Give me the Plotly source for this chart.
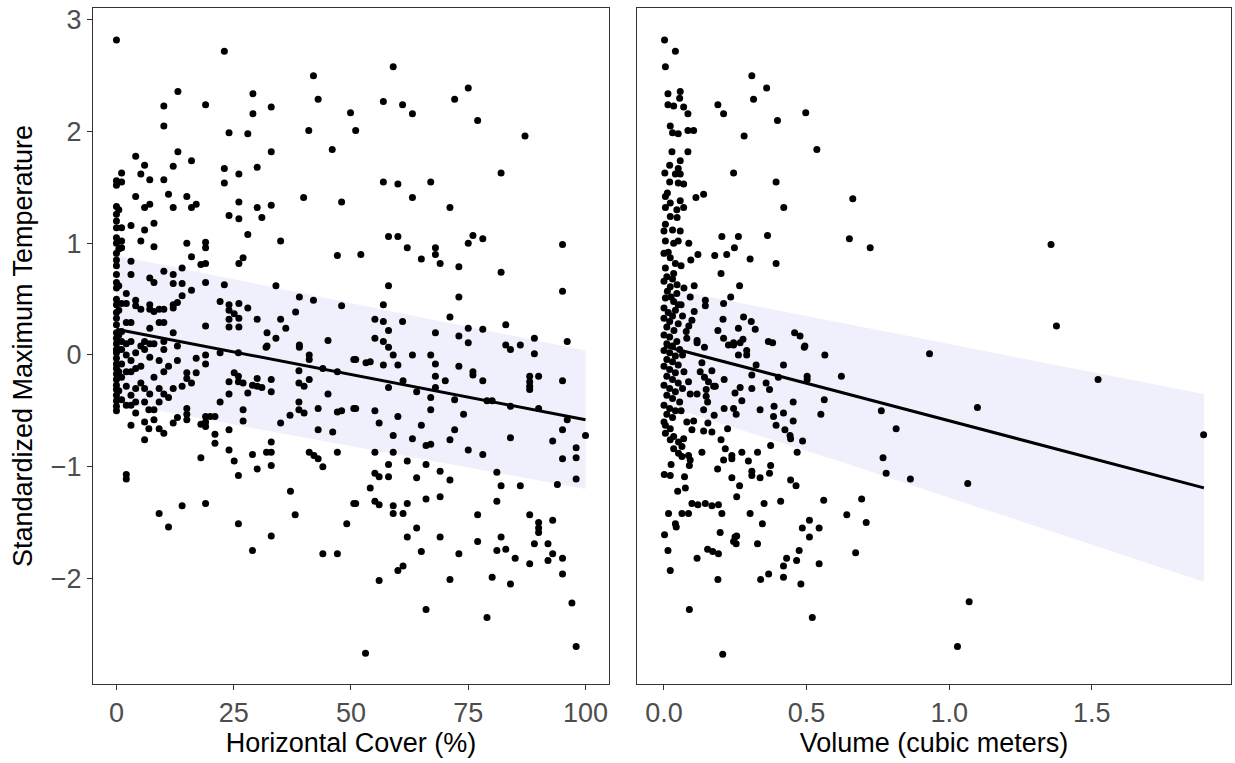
import plotly.graph_objects as go

# ---------------- data ----------------
cover_pts = [
    (0,2.82),(23,2.72),(42,2.50),(13.1,2.36),(29.1,2.34),(43,2.29),(10.1,2.23),(19,2.24),(33,2.22),(29.1,2.16),
    (49.9,2.17),(10.1,2.05),(24,1.99),(28,1.98),(41,2.01),(46,1.84),(13.1,1.82),(33,1.82),(4.1,1.78),(6,1.70),
    (12.1,1.69),(16,1.74),(1.1,1.63),(23,1.67),(26.1,1.62),(30,1.68),(0,1.56),(1.1,1.55),(5.2,1.62),(7.1,1.57),
    (10.1,1.57),(23,1.54),(4.1,1.42),(11.1,1.44),(15,1.42),(6,1.32),(7.1,1.35),(12.1,1.32),(16,1.32),(17,1.35),
    (26.1,1.37),(30,1.32),(33,1.34),(39.9,1.41),(48,1.37),(0,1.33),(0,1.26),(0,1.20),(0,1.14),(1.1,1.14),
    (3.1,1.16),(6,1.12),(8,1.18),(24,1.25),(26.1,1.22),(31,1.23),(0,1.05),(1.1,1.02),(5.2,1.02),(8,0.97),
    (15,1.00),(19,1.01),(19,0.96),(28,1.08),(35,1.02),(0,0.91),(1.1,0.96),(16,0.88),(18,0.81),(19,0.82),
    (26.1,0.82),(27,0.87),(47.1,0.89),(0,0.80),(3.1,0.84),(3.1,0.72),(10.1,0.75),(12.1,0.72),(14,0.78),(7.1,0.69),
    (8,0.65),(12.1,0.64),(14,0.64),(16,0.58),(19,0.65),(23,0.63),(34,0.62),(0,0.65),(2.1,0.55),(0,0.45),
    (1.1,0.46),(2.1,0.46),(4.1,0.49),(4.1,0.44),(5.2,0.41),(7.1,0.45),(7.1,0.41),(8,0.39),(9.1,0.41),(10.1,0.41),
    (12.1,0.45),(12.1,0.42),(13,0.47),(14,0.53),(22.1,0.48),(24,0.45),(24,0.40),(26.1,0.46),(28,0.42),(39,0.52),
    (42,0.49),(48,0.44),(38.2,0.385),(25.1,0.37),(24,0.32),(26.1,0.33),(30,0.32),(35,0.32),(36.1,0.24),(19,0.26),
    (24,0.25),(26.1,0.25),(0,0.27),(2.1,0.29),(3.1,0.29),(9.1,0.29),(10.1,0.29),(7.1,0.24),(1.1,0.21),(1.1,0.12),
    (3.1,0.12),(6,0.12),(10.1,0.12),(12.1,0.20),(32.1,0.20),(34,0.15),(45.1,0.13),(39,0.09),(32.1,0.08),
    (0,1.52),(0,1.0),(0,0.85),(0,0.72),(0,0.6),(0,0.5),(0,0.38),(0,0.33),(0,0.2),(0,0.15),(0,0.1),(0,0.05),
    (0.5,0.4),(0.5,0.18),(0.5,0.62),(0.5,0.95),(0.5,1.3),
    (59,2.58),(56.9,2.27),(61,2.24),(63.1,2.16),(72.1,2.29),(75,2.39),(77,2.10),(87.1,1.96),(51,2.01),(56.9,1.55),
    (60,1.53),(67,1.55),(63.1,1.41),(71.1,1.32),(82,1.63),(58,1.06),(60,1.06),(62,0.96),(68,0.96),(68,0.90),
    (65,0.86),(69,0.82),(73,0.79),(75,1.00),(76,1.07),(78.1,1.04),(82,0.74),(95.1,0.99),(95.1,0.57),(52.1,0.90),
    (58,0.62),(73,0.52),(56.9,0.45),(55.1,0.32),(56.9,0.30),(61,0.30),(71.1,0.34),(58,0.22),(68,0.20),(75,0.24),
    (78.1,0.23),(83,0.27),(55.1,0.15),(56.9,0.12),(73,0.17),(75,0.11),(83,0.09),(86.1,0.09),(89.1,0.15),(96.1,0.12),
    (31.9,0.07),(39,0.07),(26,0.02),(22.1,0.02),(41.1,0.0),(41.1,-0.04),(19,0.0),(19,-0.08),(17,-0.03),(13,-0.05),
    (38.9,-0.14),(41.1,-0.22),(38.9,-0.25),(40,-0.28),(44,-0.12),(47.1,-0.15),(10.1,-0.15),(15,-0.16),(17,-0.16),(15,-0.21),
    (16,-0.25),(14,-0.28),(25.1,-0.16),(26,-0.19),(24,-0.24),(26,-0.24),(27,-0.25),(30,-0.21),(29,-0.27),(30,-0.28),
    (31,-0.29),(33,-0.22),(33,-0.33),(28,-0.34),(24,-0.35),(22.1,-0.42),(38.9,-0.42),(38.9,-0.49),(40,-0.52),(45.1,-0.35),
    (43,-0.48),(47.1,-0.51),(48,-0.50),(50.6,-0.48),(50.6,-0.04),(27,-0.49),(27,-0.59),(37,-0.54),(35,-0.61),(43,-0.67),
    (46.1,-0.69),(47.1,-0.87),(41.1,-0.87),(42.1,-0.90),(43,-0.93),(44,-1.00),(33,-0.78),(32,-0.87),(33,-0.87),(29,-0.89),
    (33,-0.99),(30,-1.02),(24,-0.67),(21,-0.71),(21,-0.79),(24,-0.85),(25.1,-0.95),(26,-1.08),(18,-0.92),(19,-0.55),
    (20,-0.55),(21,-0.55),(19,-0.60),(18,-0.62),(19,-0.64),(15,-0.48),(15,-0.53),(15,-0.58),(13,-0.56),(12.1,-0.61),
    (9.1,-0.66),(10.1,-0.70),(8,-0.58),(6.9,-0.66),(6,-0.60),(6,-0.76),(3.1,-0.63),(4.1,-0.52),(3.1,-0.45),(6.9,-0.49),
    (8,-0.49),(9.1,-0.42),(2.1,-1.07),(2.1,-1.11),(37.1,-1.22),(38.1,-1.43),(49.1,-1.51),(50.6,-1.33),(9.1,-1.42),(11.1,-1.54),
    (14,-1.35),(19,-1.33),(26,-1.51),(33,-1.62),(29,-1.75),(44,-1.78),(47.1,-1.78),
    (0,0.02),(0,-0.03),(0,-0.08),(0,-0.12),(0,-0.17),(0,-0.22),(0,-0.27),(0,-0.31),(0,-0.36),(0,-0.41),(0,-0.46),(0,-0.50),
    (1.1,0.05),(2.1,0.0),(3.1,-0.05),(4.1,0.02),(5.2,-0.1),(6,0.05),(7.1,-0.02),(1.1,-0.2),(2.1,-0.28),(3.1,-0.15),
    (4.1,-0.3),(5.2,-0.25),(6,-0.3),(7.1,-0.35),(8,-0.2),(9.1,-0.05),(10.1,0.05),(8,0.1),(11.1,-0.1),(12.1,-0.3),
    (1.1,-0.4),(2.1,-0.45),(3.1,-0.36),(0.5,-0.32),(10.1,-0.35),(11.1,-0.38),(9.1,-0.3),(13,0.08),(6,-0.42),(1.1,-0.08),
    (2.1,-0.15),(4.1,-0.12),(5.2,0.08),(7.1,0.1),(2.1,0.1),(4.1,-0.42),(0.5,0.05),(0.5,-0.15),
    (58,0.07),(59,0.0),(63.1,0.0),(67,0.0),(68,-0.08),(73,-0.10),(76,-0.15),(76,-0.18),(78.1,-0.23),(84,0.05),
    (89.1,0.01),(51,-0.04),(53.2,-0.07),(54.1,-0.06),(56.9,-0.09),(60,-0.09),(61.1,-0.23),(58,-0.29),(64,-0.33),(68,-0.19),
    (70.1,-0.23),(68,-0.29),(67,-0.38),(72.1,-0.40),(74,-0.53),(67,-0.49),(51,-0.48),(55.1,-0.50),(56,-0.61),(60,-0.55),
    (65,-0.63),(59,-0.72),(63.1,-0.75),(66,-0.81),(67,-0.80),(71.1,-0.76),(72.1,-0.67),(75,-0.85),(78.1,-0.89),(79,-0.41),
    (80.1,-0.41),(84,-0.46),(84,-0.74),(88.1,-0.19),(88.1,-0.24),(88.1,-0.28),(88.1,-0.31),(90,-0.19),(90,-0.48),(95.1,-0.23),
    (96.1,-0.58),(95.1,-0.67),(93,-0.77),(98,-0.83),(98,-0.92),(100,-0.72),(95.1,-0.93),(98,-1.11),(94,-1.16),(55.1,-0.87),
    (59,-0.87),(58,-0.98),(62,-0.95),(66,-0.98),(69,-1.04),(71.1,-1.12),(64,-1.10),(55.1,-1.06),(56,-1.09),(58,-1.09),
    (54.1,-1.19),(51,-1.33),(55.1,-1.31),(56,-1.34),(59,-1.35),(59,-1.42),(61.1,-1.42),(62,-1.33),(66,-1.29),(69,-1.27),
    (81.1,-1.05),(82,-1.17),(86.1,-1.17),(81.1,-1.31),(77,-1.43),(88.1,-1.43),(90,-1.50),(90,-1.55),(90,-1.59),(93,-1.48),
    (64,-1.55),(62,-1.63),(69,-1.63),(77,-1.67),(82,-1.63),(81.1,-1.75),(83,-1.74),(85,-1.82),(88.1,-1.87),(89.1,-1.69),
    (92,-1.69),(93,-1.78),(92,-1.84),(95.1,-1.82),(95.1,-1.96),(65,-1.76),(73,-1.78),(60,-1.93),(61.1,-1.89),(56,-2.02),
    (71.1,-2.01),(80.1,-1.99),(84,-2.05),(66,-2.28),(79,-2.35),(97.1,-2.22),(53.1,-2.67),(98,-2.61),
]

volume_pts = [
    (0.002,2.82),(0.04,2.72),(0.005,2.58),(0.308,2.50),(0.36,2.39),(0.014,2.34),(0.057,2.36),(0.055,2.30),(0.014,2.24),(0.034,2.23),
    (0.069,2.22),(0.084,2.16),(0.189,2.24),(0.209,2.16),(0.314,2.29),(0.497,2.17),(0.398,2.10),(0.022,2.05),(0.03,1.99),(0.05,1.98),
    (0.084,2.01),(0.104,2.01),(0.281,1.96),(0.536,1.84),(0.028,1.82),(0.057,1.74),(0.084,1.82),(0.02,1.70),(0.05,1.67),(0.003,1.63),
    (0.04,1.62),(0.057,1.62),(0.02,1.55),(0.05,1.54),(0.069,1.53),(0.244,1.63),(0.393,1.55),(0.112,1.41),(0.139,1.44),(0.42,1.32),
    (0.005,1.42),(0.022,1.36),(0.057,1.38),(0.069,1.32),(0.005,1.32),(0.022,1.24),(0.046,1.23),(0.005,1.17),(0.0,1.11),(0.057,1.11),
    (0.203,1.06),(0.261,1.06),(0.363,1.07),(0.247,0.96),(0.22,0.90),(0.178,0.89),(0.119,0.90),(0.094,0.85),(0.302,0.86),(0.393,0.82),
    (0.2,0.73),(0.265,0.62),(0.005,1.02),(0.034,1.0),(0.05,1.02),(0.087,1.0),(0.0,0.91),(0.022,0.87),(0.04,0.82),(0.005,0.78),
    (0.034,0.73),(0.0,0.66),(0.022,0.61),(0.046,0.63),(0.106,0.62),(0.092,0.52),(0.145,0.49),(0.145,0.44),(0.209,0.46),(0.234,0.52),
    (0.005,0.51),(0.034,0.48),(0.05,0.45),(0.0,0.42),(0.106,0.39),(0.098,0.31),(0.087,0.26),(0.078,0.21),(0.207,0.32),(0.279,0.34),
    (0.306,0.30),(0.32,0.23),(0.261,0.24),(0.189,0.22),(0.209,0.15),(0.458,0.20),(0.477,0.17),(0.116,0.13),(0.08,0.15),(0.244,0.11),
    (0.277,0.14),(0.366,0.12),(0.381,0.11),(0.494,0.08),
    (0.01,0.7),(0.03,0.68),(0.045,0.55),(0.012,0.57),(0.025,0.52),(0.04,0.4),(0.015,0.38),(0.03,0.35),(0.0,0.33),(0.02,0.3),
    (0.05,0.28),(0.01,0.25),(0.035,0.22),(0.0,0.18),(0.02,0.16),(0.045,0.12),(0.01,0.1),(0.03,0.08),(0.055,0.05),(0.0,0.04),
    (0.02,0.02),(0.04,-0.01),(0.01,-0.04),(0.03,-0.06),(0.05,-0.09),(0.0,-0.1),(0.02,-0.13),(0.04,-0.16),(0.01,-0.19),(0.03,-0.22),
    (0.05,-0.25),(0.0,-0.27),(0.02,-0.3),(0.04,-0.33),(0.01,-0.36),(0.03,-0.39),(0.055,-0.42),(0.0,-0.45),(0.02,-0.48),(0.04,-0.5),
    (0.01,-0.53),(0.03,-0.56),(0.0,-0.6),(0.065,0.35),(0.065,0.0),(0.065,-0.3),(0.07,0.6),(0.07,-0.15),(0.06,0.45),(0.06,-0.5),
    (0.015,0.92),(0.03,1.12),(0.012,1.45),(0.045,1.3),(0.06,0.8),
    (0.116,0.11),(0.142,0.07),(0.226,0.09),(0.244,0.09),(0.267,0.11),(0.261,0.0),(0.29,0.04),(0.29,0.0),(0.492,0.07),(0.564,0.0),
    (0.419,-0.09),(0.323,-0.09),(0.308,-0.18),(0.502,-0.19),(0.502,-0.22),(0.401,-0.20),(0.133,-0.07),(0.127,-0.15),(0.142,-0.20),(0.168,-0.14),
    (0.156,-0.24),(0.174,-0.28),(0.148,-0.31),(0.18,-0.28),(0.211,-0.22),(0.267,-0.29),(0.249,-0.34),(0.308,-0.30),(0.358,-0.25),(0.37,-0.31),
    (0.086,-0.24),(0.092,-0.35),(0.116,-0.35),(0.148,-0.37),(0.153,-0.42),(0.139,-0.49),(0.176,-0.54),(0.211,-0.48),(0.244,-0.48),(0.253,-0.53),
    (0.273,-0.41),(0.337,-0.49),(0.386,-0.46),(0.384,-0.55),(0.419,-0.52),(0.453,-0.42),(0.453,-0.59),(0.393,-0.63),(0.424,-0.67),(0.442,-0.72),
    (0.444,-0.75),(0.486,-0.77),(0.467,-0.87),(0.55,-0.53),(0.562,-0.40),(0.154,-0.61),(0.139,-0.68),(0.168,-0.69),(0.223,-0.66),(0.104,-0.59),
    (0.08,-0.60),(0.098,-0.67),(0.2,-0.76),(0.215,-0.84),(0.238,-0.90),(0.238,-0.93),(0.273,-0.87),(0.296,-0.95),(0.308,-1.04),(0.308,-1.08),
    (0.328,-0.87),(0.374,-0.81),(0.337,-1.10),(0.374,-0.99),(0.37,-1.06),(0.209,-0.94),(0.188,-1.02),(0.133,-0.87),(0.238,-1.10),(0.265,-1.17),
    (0.255,-1.27),(0.444,-1.12),(0.463,-1.17),(0.409,-1.31),(0.56,-1.30),(0.351,-1.33),(0.302,-1.42),(0.345,-1.51),(0.098,-1.33),(0.119,-1.34),
    (0.145,-1.33),(0.168,-1.35),(0.191,-1.34),(0.203,-1.42),(0.016,-1.42),(0.063,-1.42),(0.086,-1.42),(0.04,-1.51),(0.043,-1.54),(0.002,-1.61),
    (0.014,-1.75),(0.022,-1.93),(0.197,-1.59),(0.249,-1.63),(0.255,-1.62),(0.244,-1.67),(0.253,-1.69),(0.328,-1.69),(0.153,-1.74),(0.171,-1.76),
    (0.191,-1.78),(0.116,-1.82),(0.189,-2.01),(0.339,-2.01),(0.367,-1.96),(0.419,-1.99),(0.51,-1.48),(0.485,-1.55),(0.51,-1.63),(0.544,-1.55),
    (0.474,-1.75),(0.43,-1.82),(0.419,-1.89),(0.465,-1.84),(0.544,-1.87),(0.48,-2.05),(0.089,-2.28),(0.52,-2.35),(0.206,-2.68),
    (0.005,-0.63),(0.022,-0.66),(0.005,-0.70),(0.034,-0.73),(0.022,-0.76),(0.051,-0.78),(0.069,-0.75),(0.034,-0.84),(0.051,-0.88),(0.063,-0.91),
    (0.086,-0.90),(0.092,-0.94),(0.089,-0.99),(0.025,-0.98),(0.001,-1.07),(0.022,-1.08),(0.072,-1.09),(0.075,-1.19),(0.048,-1.22),(0.063,-0.82),
    (0.662,1.40),(0.65,1.04),(0.723,0.96),(1.357,0.99),(1.376,0.26),(0.931,0.01),(0.622,-0.19),(1.522,-0.22),(1.099,-0.47),(0.762,-0.50),
    (0.814,-0.66),(0.768,-0.92),(0.779,-1.06),(0.864,-1.11),(1.065,-1.15),(1.892,-0.715),(0.693,-1.29),(0.641,-1.43),(0.709,-1.50),(0.672,-1.77),
    (1.07,-2.21),(1.029,-2.61),
]

# fitted lines and bands
cover_fit_x = [0, 100]
cover_fit_y = [0.23, -0.58]
cover_lo = [-0.43, -1.20]
cover_hi = [0.89, 0.04]

vol_fit_x = [0, 0.6, 1.893]
vol_fit_y = [0.08, -0.32, -1.19]
vol_lo = [-0.45, -0.94, -2.03]
vol_hi = [0.60, 0.30, -0.35]

cover_ticks = [0, 25, 50, 75, 100]
vol_ticks = [0, 0.5, 1.0, 1.5]
vol_ticktext = ["0.0", "0.5", "1.0", "1.5"]
y_ticks = [-2, -1, 0, 1, 2, 3]

x_title_left = "Horizontal Cover (%)"
x_title_right = "Volume (cubic meters)"
y_title = "Standardized Maximum Temperature"

# ---------------- figure ----------------
BAND = "rgb(240,240,252)"
FONT = "Liberation Sans, Arial, sans-serif"
TICK_SIZE = 27
TITLE_SIZE = 27

fig = go.Figure()


def add_panel(pts, fx, fy, lo, hi, xa, ya):
    fig.add_trace(go.Scatter(x=fx, y=lo, mode="lines", line=dict(width=0, color=BAND),
                             hoverinfo="skip", showlegend=False, xaxis=xa, yaxis=ya))
    fig.add_trace(go.Scatter(x=fx, y=hi, mode="lines", line=dict(width=0, color=BAND),
                             fill="tonexty", fillcolor=BAND, hoverinfo="skip",
                             showlegend=False, xaxis=xa, yaxis=ya))
    xs = [p[0] for p in pts]
    ys = [p[1] for p in pts]
    fig.add_trace(go.Scatter(x=xs, y=ys, mode="markers",
                             marker=dict(size=7, color="black", line=dict(width=0)),
                             showlegend=False, xaxis=xa, yaxis=ya))
    fig.add_trace(go.Scatter(x=fx, y=fy, mode="lines", line=dict(width=3, color="black"),
                             showlegend=False, xaxis=xa, yaxis=ya))


add_panel(cover_pts, cover_fit_x, cover_fit_y, cover_lo, cover_hi, "x", "y")
add_panel(volume_pts, vol_fit_x, vol_fit_y, vol_lo, vol_hi, "x2", "y2")

axis_common = dict(showgrid=False, zeroline=False, showline=True, mirror=True,
                   linecolor="#333333", linewidth=1, ticks="outside", ticklen=5,
                   tickcolor="#333333", tickwidth=1,
                   tickfont=dict(family=FONT, size=TICK_SIZE, color="#4D4D4D"))

yr = [-2.946, 3.107]

fig.update_layout(
    width=1235, height=763,
    margin=dict(l=93, r=4, t=8, b=79),
    plot_bgcolor="white", paper_bgcolor="white",
    font=dict(family=FONT),
    xaxis=dict(domain=[0, 0.4534], range=[-5, 105], tickvals=cover_ticks,
               title=dict(text=x_title_left, font=dict(family=FONT, size=TITLE_SIZE, color="black"), standoff=4),
               **axis_common),
    xaxis2=dict(domain=[0.478, 1], range=[-0.0947, 1.988], tickvals=vol_ticks, ticktext=vol_ticktext,
                anchor="y2",
                title=dict(text=x_title_right, font=dict(family=FONT, size=TITLE_SIZE, color="black"), standoff=4),
                **axis_common),
    yaxis=dict(range=yr, tickvals=y_ticks, anchor="x",
               title=dict(text=y_title, font=dict(family=FONT, size=TITLE_SIZE, color="black"), standoff=10),
               **axis_common),
    yaxis2=dict(range=yr, anchor="x2", showgrid=False, zeroline=False, showline=True, mirror=True,
                linecolor="#333333", linewidth=1, ticks="", showticklabels=False),
)

fig.write_html("out.html")
